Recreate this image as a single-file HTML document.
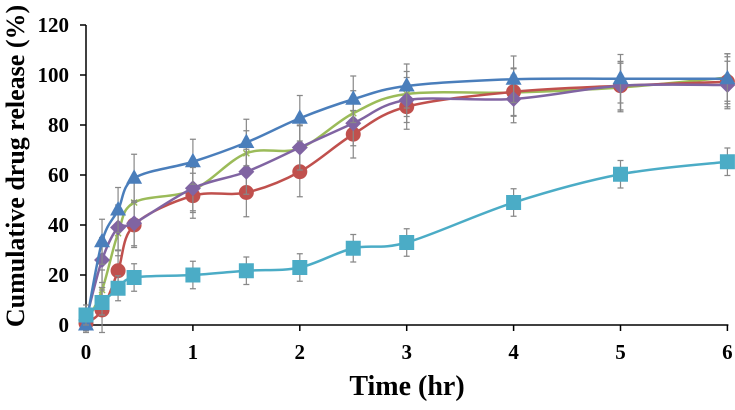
<!DOCTYPE html>
<html><head><meta charset="utf-8"><style>
body{margin:0;background:#fff}
svg text{font-family:"Liberation Serif",serif;font-weight:bold;fill:#000}
</style></head><body>
<svg id="chart" width="735" height="405" viewBox="0 0 735 405" xmlns="http://www.w3.org/2000/svg">
<g id="axes"></g>
<g id="series"></g>
<text x="407" y="395" text-anchor="middle" font-size="28">Time (hr)</text>
<text transform="translate(24,166) rotate(-90)" text-anchor="middle" font-size="26">Cumulative drug release (%)</text>
</svg>
<script>
const times=[0,0.15,0.3,0.45,1,1.5,2,2.5,3,4,5,6];
const xTicks=[0,1,2,3,4,5,6];
const yTicks=[0,20,40,60,80,100,120];
const blueVals=[0,33.3,46,58.7,65.3,73,82.7,90.3,95.6,98.3,98.5,98.5];
const blueErr=[3,9,9,9.6,9,9.3,9.1,9.3,8.8,9.3,9.7,10];
const redVals=[0.7,6,21.7,40,51.7,53,61.3,76.3,87.3,93.3,95.7,97.3];
const redErr=[3,9,8,9,9,9.7,10,9.5,9,9.5,9.7,10];
const greenVals=[0.7,14,36.7,49,54,68.7,70.7,84.7,92.4,93,95,99];
const greenErr=[3,8,9,9,9,9,9,9,9,9.5,9.7,9.5];
const purpleVals=[2,26,39,40.7,54.7,61.3,71,80.7,90,90.4,95.7,96];
const purpleErr=[3,9,9,9,9,9,9,9,9,9.5,9.7,9.5];
const cyanVals=[4,9,14.7,19,20,21.7,23,30.7,33,49,60.3,65.3];
const cyanErr=[4,5,5,5.5,5.5,5.5,5.5,5.5,5.5,5.5,5.5,5.5];
const X=t=>86+t*106.9, Y=v=>325-v*2.5;
const NS="http://www.w3.org/2000/svg";
function mk(tag,attrs,parent){const e=document.createElementNS(NS,tag);for(const k in attrs)e.setAttribute(k,attrs[k]);parent.appendChild(e);return e;}
const axes=document.getElementById('axes');
let l=mk('line',{x1:X(0),y1:Y(0),x2:X(6)+1,y2:Y(0),stroke:'#000','stroke-width':1.5},axes);


l=mk('line',{x1:X(0),y1:Y(0),x2:X(0),y2:Y(120),stroke:'#000','stroke-width':1.5},axes);


xTicks.forEach(t=>{
 const tk=mk('line',{x1:X(t),y1:Y(0),x2:X(t),y2:Y(0)+6,stroke:'#000','stroke-width':1.5},axes);
 
 
 const tx=mk('text',{x:X(t),y:Y(0)+34,'text-anchor':'middle','font-size':21},axes);tx.textContent=t;
 
 
});
yTicks.forEach(v=>{
 const tk=mk('line',{x1:X(0)-6,y1:Y(v),x2:X(0),y2:Y(v),stroke:'#000','stroke-width':1.5},axes);
 
 
 const tx=mk('text',{x:X(0)-17,y:Y(v)+7,'text-anchor':'end','font-size':21},axes);tx.textContent=v;
 
 
});
function smooth(pts){let d=`M${pts[0][0]},${pts[0][1]}`;for(let i=0;i<pts.length-1;i++){const p0=pts[i-1]||pts[i],p1=pts[i],p2=pts[i+1],p3=pts[i+2]||p2;const k=1/6;d+=` C${p1[0]+(p2[0]-p0[0])*k},${p1[1]+(p2[1]-p0[1])*k} ${p2[0]-(p3[0]-p1[0])*k},${p2[1]-(p3[1]-p1[1])*k} ${p2[0]},${p2[1]}`;}return d;}
const sg=document.getElementById('series');
const series=[
 {name:'green',vals:greenVals,err:greenErr,color:'#9bbb59',m:'x'},
 {name:'red',vals:redVals,err:redErr,color:'#c0504d',m:'circle'},
 {name:'purple',vals:purpleVals,err:purpleErr,color:'#8064a2',m:'diamond'},
 {name:'blue',vals:blueVals,err:blueErr,color:'#4a7ebb',m:'triangle'},
 {name:'cyan',vals:cyanVals,err:cyanErr,color:'#4bacc6',m:'square'}];
series.forEach(s=>{
 const g=mk('g',{},sg);
 
 
 s.vals.forEach((v,i)=>{const x=X(times[i]);
  const e=mk('path',{d:`M${x},${Y(v+s.err[i])}V${Y(v-s.err[i])}M${x-3},${Y(v+s.err[i])}h6M${x-3},${Y(v-s.err[i])}h6`,stroke:'#888','stroke-width':1.2,fill:'none'},g);
  
  });
 const p=mk('path',{d:smooth(s.vals.map((v,i)=>[X(times[i]),Y(v)])),stroke:s.color,'stroke-width':2.5,fill:'none'},g);
 
 
 s.vals.forEach((v,i)=>{const x=X(times[i]),y=Y(v);let m;
  if(s.m==='circle')m=mk('circle',{cx:x,cy:y,r:7.5,fill:s.color},g);
  else if(s.m==='square')m=mk('rect',{x:x-7.5,y:y-7.5,width:15,height:15,fill:s.color},g);
  else if(s.m==='triangle')m=mk('path',{d:`M${x},${y-9}L${x+8},${y+5.5}L${x-8},${y+5.5}Z`,fill:s.color},g);
  else if(s.m==='diamond')m=mk('path',{d:`M${x},${y-8}L${x+8},${y}L${x},${y+8}L${x-8},${y}Z`,fill:s.color},g);
  else m=mk('path',{d:`M${x-3},${y-3}L${x+3},${y+3}M${x+3},${y-3}L${x-3},${y+3}`,stroke:s.color,'stroke-width':1.5},g);
  
  });
});
</script>
</body></html>
